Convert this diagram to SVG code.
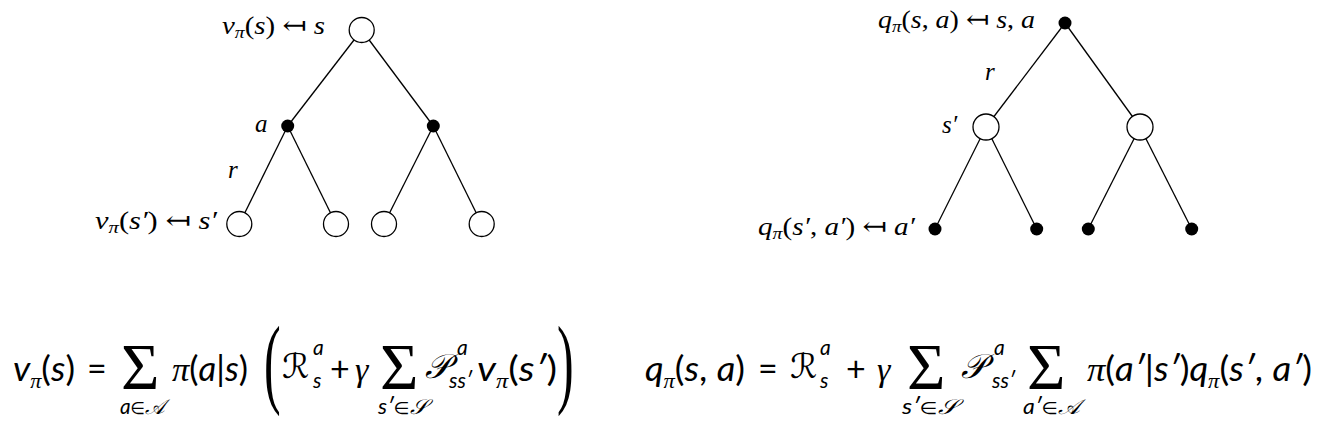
<svg xmlns="http://www.w3.org/2000/svg" width="1320" height="433" viewBox="0 0 1320 433">
<style>
.edge { stroke: #000; stroke-width: 1.3; fill: none; }
.open { fill: #fff; stroke: #000; stroke-width: 1.3; }
.dot { fill: #000; }
.t { font-family: "Liberation Serif", "DejaVu Serif", serif; font-style: italic; font-size: 25px; fill: #000; }
.tu { font-style: normal; }
.m { font-family: "Lato", "Open Sans", sans-serif; font-style: italic; font-size: 34px; fill: #000; }
.s { font-size: 21px; }
.up { font-style: normal; }
.el { font-family: "DejaVu Sans", sans-serif; font-style: normal; font-size: 17px; }
.g { font-family: "Liberation Serif", "DejaVu Serif", serif; font-style: italic; }
.cal { font-family: "DejaVu Serif", "DejaVu Sans", serif; font-style: italic; }
.sum { font-family: "Liberation Serif", "DejaVu Serif", serif; font-style: normal; font-size: 66px; }
.big { font-family: "Liberation Serif", serif; font-style: normal; font-size: 100px; }
</style>
<rect width="1320" height="433" fill="#fff"/>
<g id="connectors">
<line class="edge" x1="361.7" y1="30" x2="287.7" y2="126"/>
<line class="edge" x1="361.7" y1="30" x2="433.3" y2="126"/>
<line class="edge" x1="287.7" y1="126" x2="239.3" y2="224"/>
<line class="edge" x1="287.7" y1="126" x2="336" y2="224"/>
<line class="edge" x1="433.3" y1="126" x2="384" y2="224"/>
<line class="edge" x1="433.3" y1="126" x2="481.7" y2="224"/>
<line class="edge" x1="1065" y1="23" x2="986" y2="127"/>
<line class="edge" x1="1065" y1="23" x2="1140" y2="127"/>
<line class="edge" x1="986" y1="127" x2="935" y2="229"/>
<line class="edge" x1="986" y1="127" x2="1036.7" y2="229"/>
<line class="edge" x1="1140" y1="127" x2="1088.3" y2="229"/>
<line class="edge" x1="1140" y1="127" x2="1191.7" y2="229"/>
</g>
<g id="v-root"><circle class="open" cx="361.7" cy="30" r="12.5"/><text class="t" x="222" y="34" textLength="103" lengthAdjust="spacingAndGlyphs">v<tspan font-size="17" dy="4">π</tspan><tspan class="tu" dy="-4">(</tspan>s<tspan class="tu">) ↤ </tspan>s</text></g>
<g id="v-a1"><circle class="dot" cx="287.7" cy="126" r="6.5"/><text class="t" x="255" y="132">a</text></g>
<g id="v-a2"><circle class="dot" cx="433.3" cy="126" r="6.5"/></g>
<g id="v-r"><text class="t" x="228" y="178">r</text></g>
<g id="v-s1"><circle class="open" cx="239.3" cy="224" r="12.5"/><text class="t" x="95" y="229" textLength="122" lengthAdjust="spacingAndGlyphs">v<tspan font-size="17" dy="4">π</tspan><tspan class="tu" dy="-4">(</tspan>s′<tspan class="tu">) ↤ </tspan>s′</text></g>
<g id="v-s2"><circle class="open" cx="336" cy="224" r="12.5"/></g>
<g id="v-s3"><circle class="open" cx="384" cy="224" r="12.5"/></g>
<g id="v-s4"><circle class="open" cx="481.7" cy="224" r="12.5"/></g>

<g id="q-root"><circle class="dot" cx="1065" cy="23" r="6.5"/><text class="t" x="878" y="28" textLength="157" lengthAdjust="spacingAndGlyphs">q<tspan font-size="17" dy="4">π</tspan><tspan class="tu" dy="-4">(</tspan>s<tspan class="tu">, </tspan>a<tspan class="tu">) ↤ </tspan>s<tspan class="tu">, </tspan>a</text></g>
<g id="q-r"><text class="t" x="985" y="80">r</text></g>
<g id="q-s1"><circle class="open" cx="986" cy="127" r="13"/><text class="t" x="942" y="133">s′</text></g>
<g id="q-s2"><circle class="open" cx="1140" cy="127" r="13"/></g>
<g id="q-a1"><circle class="dot" cx="935" cy="229" r="6.5"/><text class="t" x="758" y="235" textLength="157" lengthAdjust="spacingAndGlyphs">q<tspan font-size="17" dy="4">π</tspan><tspan class="tu" dy="-4">(</tspan>s′<tspan class="tu">, </tspan>a′<tspan class="tu">) ↤ </tspan>a′</text></g>
<g id="q-a2"><circle class="dot" cx="1036.7" cy="229" r="6.5"/></g>
<g id="q-a3"><circle class="dot" cx="1088.3" cy="229" r="6.5"/></g>
<g id="q-a4"><circle class="dot" cx="1191.7" cy="229" r="6.5"/></g>

<g id="eq-v">
<text class="m" x="13" y="381" textLength="62" lengthAdjust="spacingAndGlyphs">v<tspan class="g s" dy="7">π</tspan><tspan class="up" dy="-7">(</tspan>s<tspan class="up">)</tspan></text>
<text class="m up" x="87" y="381">=</text>
<text class="sum" x="121" y="389">Σ</text>
<text class="m s" x="120" y="414" textLength="45" lengthAdjust="spacingAndGlyphs">a<tspan class="el">∈</tspan><tspan class="cal">𝒜</tspan></text>
<text class="m" x="172" y="381" textLength="76" lengthAdjust="spacingAndGlyphs"><tspan class="g">π</tspan><tspan class="up">(</tspan>a<tspan class="up">|</tspan>s<tspan class="up">)</tspan></text>
<text class="big" transform="translate(264 395) scale(0.5 1)">(</text>
<text class="m cal" x="282" y="378">ℛ</text>
<text class="m s" x="313" y="355">a</text>
<text class="m s" x="313" y="388">s</text>
<text class="m up" x="330" y="381">+</text>
<text class="m g" x="355" y="381">γ</text>
<text class="sum" x="380" y="389">Σ</text>
<text class="m s" x="378" y="414" textLength="49" lengthAdjust="spacingAndGlyphs">s′<tspan class="el">∈</tspan><tspan class="cal">𝒮</tspan></text>
<text class="m cal" x="425" y="378" font-size="25">𝒫</text>
<text class="m s" x="457" y="355">a</text>
<text class="m s" x="449" y="388">ss′</text>
<text class="m" x="477" y="381" textLength="80" lengthAdjust="spacingAndGlyphs">v<tspan class="g s" dy="7">π</tspan><tspan class="up" dy="-7">(</tspan>s′<tspan class="up">)</tspan></text>
<text class="big" transform="translate(557 395) scale(0.5 1)">)</text>
</g>

<g id="eq-q">
<text class="m" x="645" y="381" textLength="100" lengthAdjust="spacingAndGlyphs">q<tspan class="g s" dy="7">π</tspan><tspan class="up" dy="-7">(</tspan>s<tspan class="up">, </tspan>a<tspan class="up">)</tspan></text>
<text class="m up" x="758" y="381">=</text>
<text class="m cal" x="790" y="378">ℛ</text>
<text class="m s" x="820" y="355">a</text>
<text class="m s" x="820" y="388">s</text>
<text class="m up" x="846" y="381">+</text>
<text class="m g" x="877" y="381">γ</text>
<text class="sum" x="907" y="389">Σ</text>
<text class="m s" x="902" y="414" textLength="55" lengthAdjust="spacingAndGlyphs">s′<tspan class="el">∈</tspan><tspan class="cal">𝒮</tspan></text>
<text class="m cal" x="961" y="378" font-size="25">𝒫</text>
<text class="m s" x="994" y="355">a</text>
<text class="m s" x="992" y="388">ss′</text>
<text class="sum" x="1027" y="389">Σ</text>
<text class="m s" x="1023" y="414" textLength="57" lengthAdjust="spacingAndGlyphs">a′<tspan class="el">∈</tspan><tspan class="cal">𝒜</tspan></text>
<text class="m" x="1087" y="381" textLength="225" lengthAdjust="spacingAndGlyphs"><tspan class="g">π</tspan><tspan class="up">(</tspan>a′<tspan class="up">|</tspan>s′<tspan class="up">)</tspan>q<tspan class="g s" dy="7">π</tspan><tspan class="up" dy="-7">(</tspan>s′<tspan class="up">, </tspan>a′<tspan class="up">)</tspan></text>
</g>
</svg>
